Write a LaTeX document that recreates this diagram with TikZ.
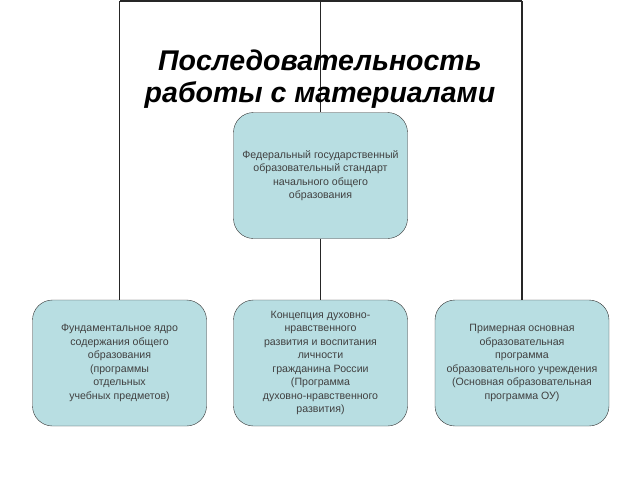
\documentclass[tikz,border=0pt]{standalone}
\usepackage{fontspec}
\setmainfont{Liberation Sans}
\usetikzlibrary{positioning}
\definecolor{boxfill}{RGB}{184,222,226}
\tikzstyle{block}=[draw=black!80,fill=boxfill,rounded corners=20pt,minimum width=174pt,minimum height=126pt,inner sep=2pt,align=center,text=black!75,font=\fontsize{10.6}{13.5}\selectfont]
\tikzstyle{edge}=[draw,line width=1.5pt,black!85]
\tikzstyle{title}=[align=center,font=\fontsize{28.5}{32}\selectfont\bfseries\itshape]

\begin{document}
\begin{tikzpicture}[x=1pt,y=-1pt]
\useasboundingbox (0,0) rectangle (640,480);

% the four boxes
\node[block] (fgos) at (320.5,175.5) {Федеральный государственный\\образовательный  стандарт\\начального общего\\образования};
\node[block] (core) at (119.5,363) {Фундаментальное ядро\\содержания общего\\образования\\(программы\\отдельных\\учебных предметов)};
\node[block] (conc) at (320.5,363) {Концепция духовно-\\нравственного\\развития и воспитания\\личности\\гражданина России\\(Программа\\духовно-нравственного\\развития)};
\node[block] (prog) at (522,363) {Примерная основная\\образовательная\\программа\\образовательного учреждения\\(Основная образовательная\\программа ОУ)};

% the lines from the top
\foreach \name/\dest in {tl/core, tm/fgos, tr/prog}
\coordinate (\name) at (\dest.north |- 0,1);
\path[edge] (tl) -- (tr);
\foreach \source/\dest in {tl/core, tm/fgos, tr/prog}
\path[edge] (\source) -- (\dest.north);
\path[edge] (fgos) -- (conc);

% the title goes over the lines
\node[title] (head) at (320,79) {Последовательность\\работы с материалами};

\end{tikzpicture}
\end{document}
